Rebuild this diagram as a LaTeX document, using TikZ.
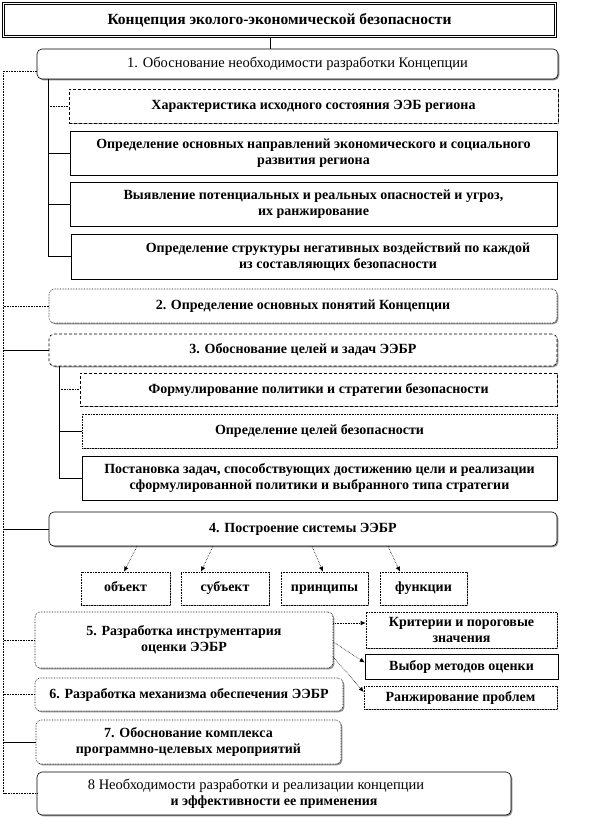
\documentclass[tikz,border=0pt]{standalone}
\usepackage{fontspec}
\setmainfont{Liberation Serif}
\usepackage{tikz}
\usetikzlibrary{arrows.meta, shadows, calc}
\definecolor{boxshadow}{HTML}{8C8C8C}
\tikzset{
  sz/.style 2 args={minimum width=#1, minimum height=#2},
  boxfont/.style={font=\fontsize{14}{16}\selectfont\bfseries},
  box/.style={draw, fill=white, line width=0.6pt, inner sep=0pt, align=center, boxfont,
    drop shadow={shadow xshift=1.3pt, shadow yshift=-1.3pt, fill=boxshadow, opacity=1}},
  rbox/.style={box, rounded corners=5pt},
  elem/.style={box, densely dotted, text height=9.5pt, text depth=3pt},
  titlebox/.style={draw, double, double distance=1.8pt, line width=0.9pt, fill=white,
    inner sep=0pt, align=center, font=\fontsize{15.5}{17}\selectfont\bfseries},
  link/.style={line width=0.6pt},
  dlink/.style={line width=0.6pt, densely dotted},
  arr/.style={dlink, -{Latex[length=5pt,width=4.5pt]}}
}

\begin{document}
\begin{tikzpicture}[x=1pt, y=-1pt]
    \useasboundingbox (0,0) rectangle (600,818);
    % Title
    \node[titlebox, sz={552}{33}] (title) at (279.5,20) {Концепция эколого-экономической безопасности};
    % Stage 1 and its parts
    \node[rbox, sz={521}{30}, font=\fontsize{14.5}{16}\selectfont] (b1) at (297.5,64)
        {1. Обоснование необходимости разработки Концепции};
    \node[box, densely dashed, sz={489}{34}] (bA) at (313.5,106) {Характеристика исходного состояния ЭЭБ региона};
    \node[box, sz={487}{44}] (bB) at (313.5,153)
        {Определение основных направлений экономического и социального\\ развития региона};
    \node[box, sz={487}{44}] (bC) at (313.5,204)
        {Выявление потенциальных и реальных опасностей и угроз,\\ их ранжирование};
    \node[box, sz={486}{45}] (bD) at (314,256.5)
        {\hspace*{48pt}Определение структуры негативных воздействий по каждой\\ \hspace*{48pt}из составляющих безопасности};
    % Stages 2 and 3
    \node[rbox, densely dotted, sz={508}{34}] (b2) at (303,306) {2. Определение основных понятий Концепции};
    \node[rbox, densely dashed, sz={508}{32}] (b3) at (303,350) {3. Обоснование целей и задач ЭЭБР};
    \node[box, densely dashed, sz={477}{33}] (bE) at (318.5,389.5) {Формулирование политики и стратегии безопасности};
    \node[box, densely dotted, sz={475}{34}] (bF) at (319.5,431) {Определение целей безопасности};
    \node[box, sz={475}{44}] (bG) at (319.5,478)
        {Постановка задач, способствующих достижению цели и реализации\\ сформулированной политики и выбранного типа стратегии};
    % Stage 4 and system elements
    \node[rbox, sz={508}{34}] (b4) at (303,529) {4. Построение системы ЭЭБР};
    \node[elem, sz={89}{33}] (ob) at (125.5,588.5) {объект};
    \node[elem, sz={88}{33}] (sb) at (225,588.5) {субъект};
    \node[elem, sz={87}{33}] (pr) at (324.5,588.5) {принципы};
    \node[elem, sz={87}{33}] (fn) at (423.5,588.5) {функции};
    % Stage 5 and tools
    \node[rbox, densely dotted, sz={298}{56}] (b5) at (184,640)
        {\raisebox{4.5pt}{\begin{tabular}{@{}c@{}}5. Разработка инструментария\\ оценки ЭЭБР\end{tabular}}};
    \node[box, densely dotted, sz={191}{36}] (bH) at (461.5,630) {Критерии и пороговые\\ значения};
    \node[box, sz={193}{25}] (bI) at (461.5,666.5) {Выбор методов оценки};
    \node[box, densely dotted, sz={193}{23}] (bJ) at (460.5,697.5) {Ранжирование проблем};
    % Stages 6 to 8
    \node[rbox, densely dotted, sz={308}{33}] (b6) at (189,694.5) {6. Разработка механизма обеспечения ЭЭБР};
    \node[rbox, densely dotted, sz={305}{44}] (b7) at (188.5,742)
        {7. Обоснование комплекса\\ программно-целевых мероприятий};
    \node[rbox, sz={474}{43}] (b8) at (274,793.5)
        {{\mdseries\fontsize{14.5}{16}\selectfont 8 Необходимости разработки и реализации концепции}\hspace*{36pt}\\ и эффективности ее применения};

    % Title to stage 1
    \coordinate (tc) at (270,0);
    \draw[link] (tc |- title.south) -- (tc |- b1.north);
    % Left spine
    \coordinate (ls) at (3.5,0);
    \draw[dlink] ([yshift=-7pt]b1.west) -| (ls |- b8.west) -- (b8.west);
    \foreach \b in {b2,b5,b6}
        \draw[dlink] (ls |- \b.west) -- (\b.west);
    \foreach \b in {b3,b4,b7}
        \draw[link] (ls |- \b.west) -- (\b.west);
    % Spine of stage 1
    \coordinate (s1) at (48,0);
    \draw[link] (s1 |- b1.south) -- (s1 |- bD.west) -- (bD.west);
    \draw[dlink] (s1 |- bA.west) -- (bA.west);
    \foreach \b in {bB,bC}
        \draw[link] (s1 |- \b.west) -- (\b.west);
    % Spine of stage 3
    \coordinate (s2) at (59,0);
    \draw[link] (s2 |- b3.south) -- (s2 |- bG.west) -- (bG.west);
    \draw[dlink] (s2 |- bE.west) -- (bE.west);
    \draw[link] (s2 |- bF.west) -- (bF.west);
    % Stage 4 arrows
    \foreach \n/\s/\e in {ob/-166/-1.5, sb/-90/-24, pr/9/-1.5, fn/85/-23.5}
        \draw[arr] ([xshift=\s pt]b4.south) -- ([xshift=\e pt]\n.north);
    % Stage 5 arrows
    \draw[arr] ([yshift=17pt]b5.east) -- ([yshift=7pt]bH.west);
    \draw[arr] ([yshift=-2pt]b5.east) -- ([yshift=4pt]bI.west);
    \draw[arr] ([yshift=-17pt]b5.east) -- ([yshift=5.5pt]bJ.west);
\end{tikzpicture}
\end{document}
